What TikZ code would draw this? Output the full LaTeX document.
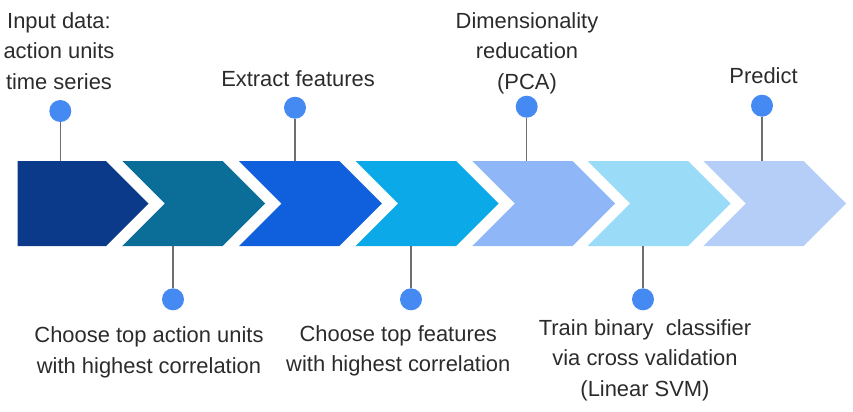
\documentclass[tikz,border=0pt]{standalone}
\usepackage{fontspec}
\setmainfont{Liberation Sans}
\definecolor{cA}{HTML}{0C3A8B}
\definecolor{cB}{HTML}{0A6E98}
\definecolor{cC}{HTML}{105FDC}
\definecolor{cD}{HTML}{0CA9E8}
\definecolor{cE}{HTML}{8FB7F8}
\definecolor{cF}{HTML}{9ADCF8}
\definecolor{cG}{HTML}{B4CEF8}
\definecolor{dotc}{HTML}{4589F3}
\definecolor{stemc}{HTML}{6E6E6E}
\definecolor{txt}{HTML}{2B2B2B}
\tikzset{
  dot/.style={circle,fill=dotc,inner sep=0pt,minimum size=22bp},
  stem/.style={draw=stemc,line width=1.2bp},
  lbl/.style={text=txt,align=center,inner sep=0pt,anchor=base,
    font=\fontsize{22}{30.5}\selectfont},
}
\newcommand{\chev}[2]{%
  \fill[#2] (#1,161) -- ++(100.4,0) -- ++(42.5,42.5) -- ++(-42.5,42.5)
    -- ++(-100.4,0) -- ++(42.5,-42.5) -- cycle;}
\begin{document}
\begin{tikzpicture}[x=1bp,y=-1bp]
\useasboundingbox (0,0) rectangle (853,411);
% chevrons
\fill[cA] (17.7,161) -- (106,161) -- (148.5,203.5) -- (106,246) -- (17.7,246) -- cycle;
\chev{122.3}{cB}
\chev{239}{cC}
\chev{355.7}{cD}
\chev{472.3}{cE}
\chev{587.7}{cF}
\chev{703.3}{cG}
% anchor points on the chevrons
\coordinate (p1) at (60.3,161);
\coordinate (p2) at (173,246);
\coordinate (p3) at (295,161);
\coordinate (p4) at (411,246);
\coordinate (p5) at (526.7,161);
\coordinate (p6) at (643,246);
\coordinate (p7) at (762,161);
% dots
\node[dot] (d1) at (60.3,111) {};
\node[dot] (d2) at (173,299.3) {};
\node[dot] (d3) at (295,107.7) {};
\node[dot] (d4) at (411,299.3) {};
\node[dot] (d5) at (526.7,106.7) {};
\node[dot] (d6) at (643,299.3) {};
\node[dot] (d7) at (762,105.7) {};
% stems
\foreach \i in {1,...,7} {\draw[stem] (d\i) -- (p\i);}
% labels (anchor = baseline of last line)
\node[lbl] (t1) at (59,89.3) {Input data:\\action units\\time series};
\node[lbl] (t3) at (298,86) {Extract features};
\node[lbl] (t5) at (527,89.3) {Dimensionality\\reducation\\(PCA)};
\node[lbl] (t7) at (763.5,83.3) {Predict};
\node[lbl] (t2) at (149,373.3) {Choose top action units\\with highest correlation};
\node[lbl] (t4) at (398.3,371.7) {Choose top features\\with highest correlation};
\node[lbl] (t6) at (645,396) {Train binary\ \ classifier\\via cross validation\\(Linear SVM)};
\end{tikzpicture}
\end{document}
